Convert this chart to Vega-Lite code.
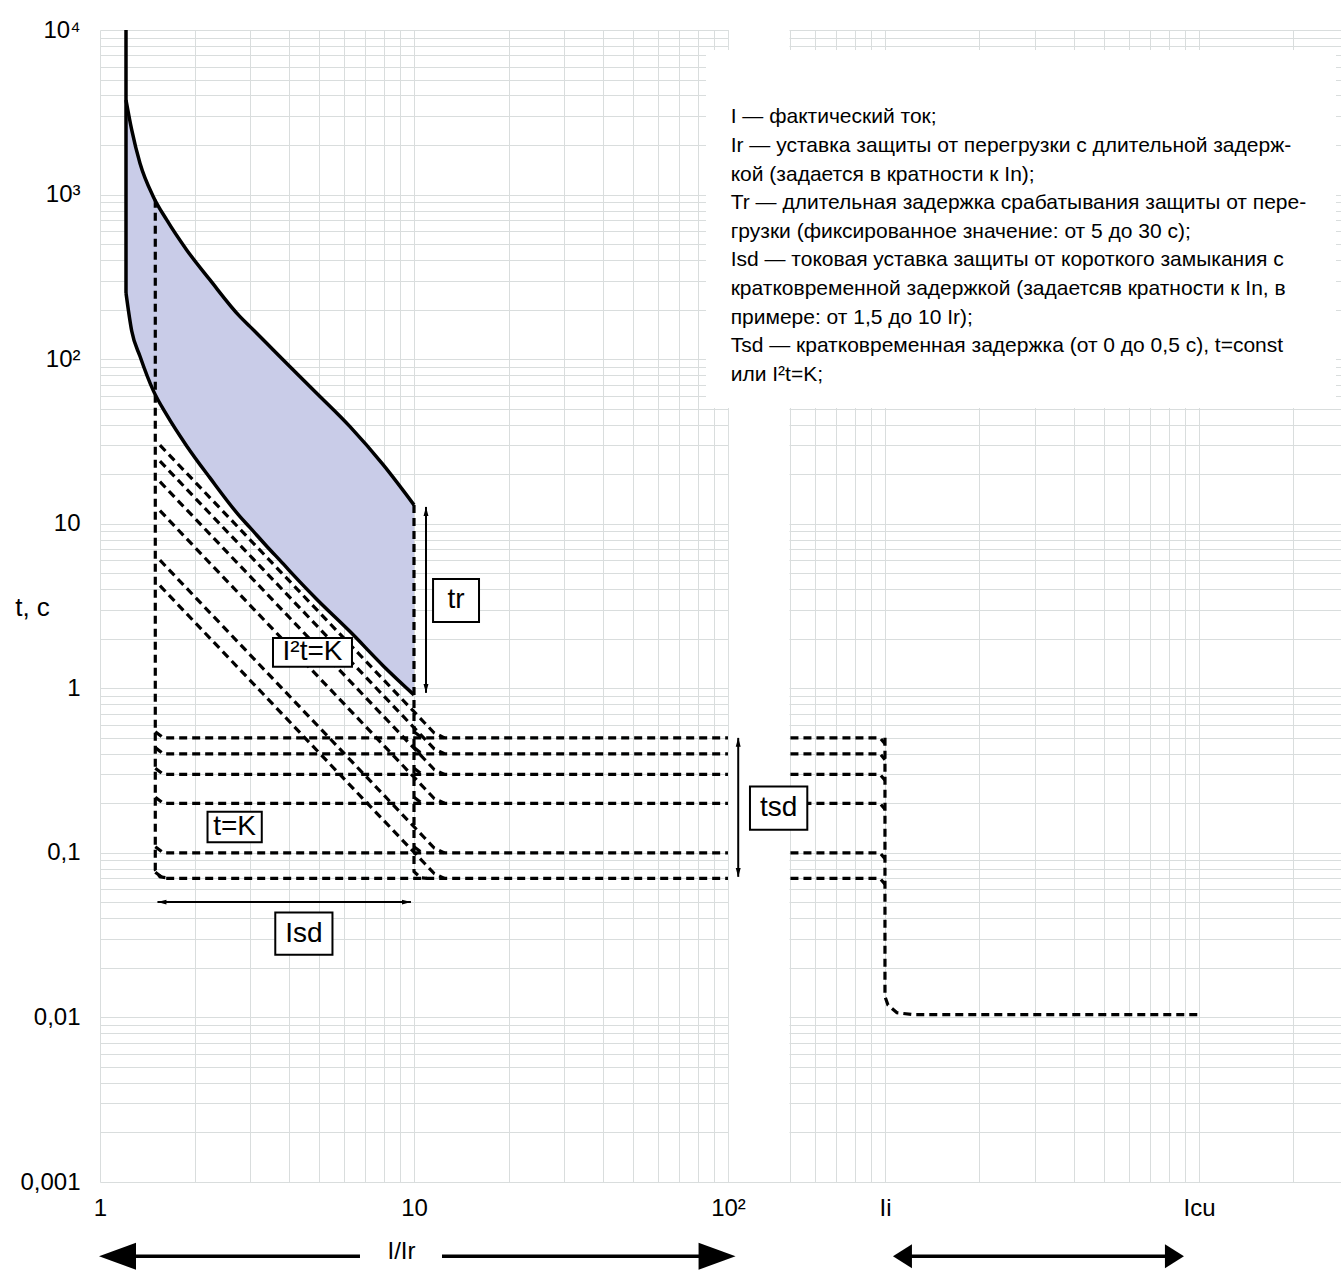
{
  "$schema": "https://vega.github.io/schema/vega-lite/v6.json",
  "width": 1241,
  "height": 1152,
  "autosize": {"type": "none"},
  "padding": {"left": 100, "top": 30, "right": 0, "bottom": 88},
  "background": "white",
  "config": {"view": {"stroke": null}, "font": "Liberation Sans"},
  "datasets": {
    "curve": [
      {"x": 1.21, "up": 3756, "lo": 252.5},
      {"x": 1.2619, "up": 2469, "lo": 148.3},
      {"x": 1.3407, "up": 1549.6, "lo": 104.1},
      {"x": 1.4783, "up": 971.0, "lo": 64.36},
      {"x": 1.6313, "up": 701.0, "lo": 45.81},
      {"x": 1.8882, "up": 460.8, "lo": 29.7},
      {"x": 2.2403, "up": 302.8, "lo": 18.98},
      {"x": 2.7918, "up": 181.2, "lo": 11.045},
      {"x": 3.0052, "up": 157.6, "lo": 9.469},
      {"x": 3.3955, "up": 124.9, "lo": 7.299},
      {"x": 3.8348, "up": 98.88, "lo": 5.699},
      {"x": 4.127, "up": 86.0, "lo": 4.886},
      {"x": 4.8986, "up": 62.06, "lo": 3.477},
      {"x": 6.2548, "up": 38.89, "lo": 2.211},
      {"x": 7.9846, "up": 22.76, "lo": 1.3679},
      {"x": 10, "up": 13.007, "lo": 0.9118}
    ],
    "dash": [
      {"id": "v15", "i": 0, "x": 1.5, "t": 930},
      {"id": "v15", "i": 1, "x": 1.5, "t": 0.0788},
      {"id": "v15", "i": 2, "x": 1.552, "t": 0.0715},
      {"id": "v15", "i": 3, "x": 1.634, "t": 0.0705},
      {"id": "v10", "i": 0, "x": 10, "t": 13},
      {"id": "v10", "i": 1, "x": 10, "t": 0.077},
      {"id": "v10", "i": 2, "x": 10.5, "t": 0.0705},
      {"id": "v10", "i": 3, "x": 11, "t": 0.07},
      {"id": "hl05", "i": 0, "x": 1.5, "t": 0.545},
      {"id": "hl05", "i": 1, "x": 1.59, "t": 0.5},
      {"id": "hl05", "i": 2, "x": 100, "t": 0.5},
      {"id": "hl04", "i": 0, "x": 1.5, "t": 0.436},
      {"id": "hl04", "i": 1, "x": 1.59, "t": 0.4},
      {"id": "hl04", "i": 2, "x": 100, "t": 0.4},
      {"id": "hl03", "i": 0, "x": 1.5, "t": 0.327},
      {"id": "hl03", "i": 1, "x": 1.59, "t": 0.3},
      {"id": "hl03", "i": 2, "x": 100, "t": 0.3},
      {"id": "hl02", "i": 0, "x": 1.5, "t": 0.218},
      {"id": "hl02", "i": 1, "x": 1.59, "t": 0.2},
      {"id": "hl02", "i": 2, "x": 100, "t": 0.2},
      {"id": "hl01", "i": 0, "x": 1.5, "t": 0.109},
      {"id": "hl01", "i": 1, "x": 1.59, "t": 0.1},
      {"id": "hl01", "i": 2, "x": 100, "t": 0.1},
      {"id": "hl007", "i": 0, "x": 1.5, "t": 0.0763},
      {"id": "hl007", "i": 1, "x": 1.59, "t": 0.07},
      {"id": "hl007", "i": 2, "x": 100, "t": 0.07},
      {"id": "hk05", "i": 0, "x": 10, "t": 0.545},
      {"id": "hk05", "i": 1, "x": 10.6, "t": 0.5},
      {"id": "hk04", "i": 0, "x": 10, "t": 0.436},
      {"id": "hk04", "i": 1, "x": 10.6, "t": 0.4},
      {"id": "hk03", "i": 0, "x": 10, "t": 0.327},
      {"id": "hk03", "i": 1, "x": 10.6, "t": 0.3},
      {"id": "hk02", "i": 0, "x": 10, "t": 0.218},
      {"id": "hk02", "i": 1, "x": 10.6, "t": 0.2},
      {"id": "hk01", "i": 0, "x": 10, "t": 0.109},
      {"id": "hk01", "i": 1, "x": 10.6, "t": 0.1},
      {"id": "d05", "i": 0, "x": 1.552, "t": 30},
      {"id": "d05", "i": 1, "x": 10.8, "t": 0.6175},
      {"id": "d05", "i": 2, "x": 11.6, "t": 0.535},
      {"id": "d05", "i": 3, "x": 12.5, "t": 0.5},
      {"id": "d04", "i": 0, "x": 1.552, "t": 24},
      {"id": "d04", "i": 1, "x": 10.8, "t": 0.494},
      {"id": "d04", "i": 2, "x": 11.6, "t": 0.428},
      {"id": "d04", "i": 3, "x": 12.5, "t": 0.4},
      {"id": "d03", "i": 0, "x": 1.552, "t": 18},
      {"id": "d03", "i": 1, "x": 10.8, "t": 0.3705},
      {"id": "d03", "i": 2, "x": 11.6, "t": 0.321},
      {"id": "d03", "i": 3, "x": 12.5, "t": 0.3},
      {"id": "d02", "i": 0, "x": 1.552, "t": 12},
      {"id": "d02", "i": 1, "x": 10.8, "t": 0.247},
      {"id": "d02", "i": 2, "x": 11.6, "t": 0.214},
      {"id": "d02", "i": 3, "x": 12.5, "t": 0.2},
      {"id": "d01", "i": 0, "x": 1.552, "t": 6},
      {"id": "d01", "i": 1, "x": 10.8, "t": 0.1235},
      {"id": "d01", "i": 2, "x": 11.6, "t": 0.107},
      {"id": "d01", "i": 3, "x": 12.5, "t": 0.1},
      {"id": "d007", "i": 0, "x": 1.552, "t": 4.2},
      {"id": "d007", "i": 1, "x": 10.8, "t": 0.08645},
      {"id": "d007", "i": 2, "x": 11.6, "t": 0.0749},
      {"id": "d007", "i": 3, "x": 12.5, "t": 0.07},
      {"id": "hr05", "i": 0, "x": 158.1, "t": 0.5},
      {"id": "hr05", "i": 1, "x": 305, "t": 0.5},
      {"id": "hr05", "i": 2, "x": 316.2, "t": 0.46},
      {"id": "hr04", "i": 0, "x": 158.1, "t": 0.4},
      {"id": "hr04", "i": 1, "x": 305, "t": 0.4},
      {"id": "hr04", "i": 2, "x": 316.2, "t": 0.368},
      {"id": "hr03", "i": 0, "x": 158.1, "t": 0.3},
      {"id": "hr03", "i": 1, "x": 305, "t": 0.3},
      {"id": "hr03", "i": 2, "x": 316.2, "t": 0.276},
      {"id": "hr02", "i": 0, "x": 158.1, "t": 0.2},
      {"id": "hr02", "i": 1, "x": 305, "t": 0.2},
      {"id": "hr02", "i": 2, "x": 316.2, "t": 0.184},
      {"id": "hr01", "i": 0, "x": 158.1, "t": 0.1},
      {"id": "hr01", "i": 1, "x": 305, "t": 0.1},
      {"id": "hr01", "i": 2, "x": 316.2, "t": 0.092},
      {"id": "hr007", "i": 0, "x": 158.1, "t": 0.07},
      {"id": "hr007", "i": 1, "x": 305, "t": 0.07},
      {"id": "hr007", "i": 2, "x": 316.2, "t": 0.0644},
      {"id": "vr", "i": 0, "x": 316.2, "t": 0.5},
      {"id": "vr", "i": 1, "x": 316.2, "t": 0.0134},
      {"id": "vr", "i": 2, "x": 323.3, "t": 0.0119},
      {"id": "vr", "i": 3, "x": 345.3, "t": 0.01067},
      {"id": "vr", "i": 4, "x": 388, "t": 0.0104},
      {"id": "vr", "i": 5, "x": 3162, "t": 0.0104}
    ],
    "boxes": [
      {"label": "tr", "x1": 11.5, "x2": 16.11, "t1": 4.62, "t2": 2.53, "xc": 13.61, "tc": 3.44},
      {"label": "I²t=K", "x1": 3.556, "x2": 6.346, "t1": 2.02, "t2": 1.35, "xc": 4.752, "tc": 1.65},
      {"label": "t=K", "x1": 2.2, "x2": 3.275, "t1": 0.178, "t2": 0.116, "xc": 2.684, "tc": 0.1439},
      {"label": "Isd", "x1": 3.616, "x2": 5.5, "t1": 0.0434, "t2": 0.024, "xc": 4.464, "tc": 0.0322},
      {"label": "tsd", "x1": 117.5, "x2": 178.9, "t1": 0.253, "t2": 0.138, "xc": 145, "tc": 0.1866}
    ],
    "thin": [
      {"name": "tr", "x1": 10.92, "x2": 10.92, "t1": 12.65, "t2": 0.938},
      {"name": "tsd", "x1": 107.8, "x2": 107.8, "t1": 0.4996, "t2": 0.0715},
      {"name": "Isd", "x1": 1.524, "x2": 9.78, "t1": 0.0502, "t2": 0.0502}
    ],
    "thick": [
      {"name": "I/Ir left", "x1": 1.141, "x2": 6.73, "t1": 0.000354, "t2": 0.000354},
      {"name": "I/Ir right", "x1": 12.28, "x2": 91.6, "t1": 0.000354, "t2": 0.000354},
      {"name": "Ii-Icu", "x1": 366.2, "x2": 2594, "t1": 0.000354, "t2": 0.000354}
    ],
    "smallHeads": [
      {"kind": "up", "x": 10.92, "t": 11.88},
      {"kind": "down", "x": 10.92, "t": 0.9986},
      {"kind": "up", "x": 107.8, "t": 0.4692},
      {"kind": "down", "x": 107.8, "t": 0.0761},
      {"kind": "left", "x": 1.575, "t": 0.0502},
      {"kind": "right", "x": 9.465, "t": 0.0502}
    ],
    "bigHeads": [
      {"kind": "bigleft", "x": 1.137, "t": 0.000354},
      {"kind": "bigright", "x": 92.3, "t": 0.000354}
    ],
    "medHeads": [
      {"kind": "medleft", "x": 359.5, "t": 0.000354},
      {"kind": "medright", "x": 2642, "t": 0.000354}
    ]
  },
  "layer": [
    {
      "data": {"name": "curve"},
      "mark": {"type": "area", "fill": "#c9cce8", "opacity": 1, "interpolate": "monotone"},
      "encoding": {
        "x": {
          "field": "x", "type": "quantitative", "title": "I/Ir",
          "scale": {"type": "log", "domain": [1, 8961], "nice": false},
          "axis": {
            "values": [1, 2, 3, 4, 5, 6, 7, 8, 9, 10, 20, 30, 40, 50, 60, 70, 80, 90, 100, 158.11, 189.74, 221.36, 252.98, 284.6, 316.23, 632.46, 948.68, 1264.91, 1581.14, 1897.37, 2213.59, 2529.82, 2846.05, 3162.28, 6324.56],
            "grid": true, "gridColor": "#d9dddd", "gridWidth": 1,
            "ticks": false, "domain": false,
            "labelExpr": "datum.value == 1 ? '1' : datum.value == 10 ? '10' : datum.value == 100 ? '10²' : datum.value == 316.23 ? 'Ii' : datum.value == 3162.28 ? 'Icu' : ''",
            "labelFont": "Liberation Sans", "labelFontSize": 24, "labelColor": "#000000",
            "labelPadding": 14, "labelFlush": false, "labelOverlap": false, "labelBound": false,
            "title": "I/Ir", "titleX": 301, "titleY": 69, "titleFont": "Liberation Sans", "titleFontSize": 24,
            "titleFontWeight": "normal", "titleColor": "#000000", "titleAlign": "center", "titleBaseline": "middle", "titleAngle": 0
          }
        },
        "y": {
          "field": "up", "type": "quantitative", "title": "t, c",
          "scale": {"type": "log", "domain": [0.001, 10000], "nice": false},
          "axis": {
            "values": [0.001, 0.002, 0.003, 0.004, 0.005, 0.006, 0.007, 0.008, 0.009, 0.01, 0.02, 0.03, 0.04, 0.05, 0.06, 0.07, 0.08, 0.09, 0.1, 0.2, 0.3, 0.4, 0.5, 0.6, 0.7, 0.8, 0.9, 1, 2, 3, 4, 5, 6, 7, 8, 9, 10, 20, 30, 40, 50, 60, 70, 80, 90, 100, 200, 300, 400, 500, 600, 700, 800, 900, 1000, 2000, 3000, 4000, 5000, 6000, 7000, 8000, 9000, 10000],
            "grid": true, "gridColor": "#d9dddd", "gridWidth": 1,
            "ticks": false, "domain": false,
            "labelExpr": "datum.value == 10000 ? '10⁴' : datum.value == 1000 ? '10³' : datum.value == 100 ? '10²' : datum.value == 10 ? '10' : datum.value == 1 ? '1' : datum.value == 0.1 ? '0,1' : datum.value == 0.01 ? '0,01' : datum.value == 0.001 ? '0,001' : ''",
            "labelFont": "Liberation Sans", "labelFontSize": 24, "labelColor": "#000000",
            "labelAlign": "right", "labelBaseline": "middle", "labelPadding": 20,
            "labelFlush": false, "labelOverlap": false, "labelBound": false,
            "title": "t, c", "titleAngle": 0, "titleX": -68, "titleY": 577, "titleAlign": "center", "titleBaseline": "middle",
            "titleFont": "Liberation Sans", "titleFontSize": 26, "titleFontWeight": "normal", "titleColor": "#000000"
          }
        },
        "y2": {"field": "lo"}
      }
    },
    {
      "data": {"values": [{}]},
      "mark": {"type": "rect", "fill": "white", "stroke": null},
      "encoding": {
        "x": {"datum": 100.7, "type": "quantitative", "title": "I/Ir", "scale": {"type": "log", "domain": [1, 8961], "nice": false}},
        "x2": {"datum": 157.0},
        "y": {"datum": 0.001, "type": "quantitative", "title": "t, c", "scale": {"type": "log", "domain": [0.001, 10000], "nice": false}},
        "y2": {"datum": 10000}
      }
    },
    {
      "data": {"name": "dash"},
      "mark": {"type": "line", "color": "black", "strokeWidth": 3.2, "strokeDash": [8, 5], "clip": false},
      "encoding": {
        "x": {"field": "x", "type": "quantitative", "title": "I/Ir", "scale": {"type": "log", "domain": [1, 8961], "nice": false}},
        "y": {"field": "t", "type": "quantitative", "title": "t, c", "scale": {"type": "log", "domain": [0.001, 10000], "nice": false}},
        "detail": {"field": "id", "type": "nominal"},
        "order": {"field": "i", "type": "quantitative"}
      }
    },
    {
      "data": {"name": "curve"},
      "mark": {"type": "line", "color": "black", "strokeWidth": 3.5, "interpolate": "monotone"},
      "encoding": {
        "x": {"field": "x", "type": "quantitative", "title": "I/Ir", "scale": {"type": "log", "domain": [1, 8961], "nice": false}},
        "y": {"field": "up", "type": "quantitative", "title": "t, c", "scale": {"type": "log", "domain": [0.001, 10000], "nice": false}}
      }
    },
    {
      "data": {"name": "curve"},
      "mark": {"type": "line", "color": "black", "strokeWidth": 3.5, "interpolate": "monotone"},
      "encoding": {
        "x": {"field": "x", "type": "quantitative", "title": "I/Ir", "scale": {"type": "log", "domain": [1, 8961], "nice": false}},
        "y": {"field": "lo", "type": "quantitative", "title": "t, c", "scale": {"type": "log", "domain": [0.001, 10000], "nice": false}}
      }
    },
    {
      "data": {"values": [{}]},
      "mark": {"type": "rule", "color": "black", "strokeWidth": 3.5},
      "encoding": {
        "x": {"datum": 1.21, "type": "quantitative", "title": "I/Ir", "scale": {"type": "log", "domain": [1, 8961], "nice": false}},
        "y": {"datum": 10000, "type": "quantitative", "title": "t, c", "scale": {"type": "log", "domain": [0.001, 10000], "nice": false}},
        "y2": {"datum": 252.5}
      }
    },
    {
      "data": {"name": "thin"},
      "mark": {"type": "rule", "color": "black", "strokeWidth": 2, "clip": false},
      "encoding": {
        "x": {"field": "x1", "type": "quantitative", "title": "I/Ir", "scale": {"type": "log", "domain": [1, 8961], "nice": false}},
        "x2": {"field": "x2"},
        "y": {"field": "t1", "type": "quantitative", "title": "t, c", "scale": {"type": "log", "domain": [0.001, 10000], "nice": false}},
        "y2": {"field": "t2"}
      }
    },
    {
      "data": {"name": "boxes"},
      "mark": {"type": "rect", "fill": "white", "stroke": "black", "strokeWidth": 2, "clip": false},
      "encoding": {
        "x": {"field": "x1", "type": "quantitative", "title": "I/Ir", "scale": {"type": "log", "domain": [1, 8961], "nice": false}},
        "x2": {"field": "x2"},
        "y": {"field": "t1", "type": "quantitative", "title": "t, c", "scale": {"type": "log", "domain": [0.001, 10000], "nice": false}},
        "y2": {"field": "t2"}
      }
    },
    {
      "data": {"name": "boxes"},
      "mark": {"type": "text", "font": "Liberation Sans", "fontSize": 28, "color": "black", "align": "center", "baseline": "middle", "clip": false},
      "encoding": {
        "x": {"field": "xc", "type": "quantitative", "title": "I/Ir", "scale": {"type": "log", "domain": [1, 8961], "nice": false}},
        "y": {"field": "tc", "type": "quantitative", "title": "t, c", "scale": {"type": "log", "domain": [0.001, 10000], "nice": false}},
        "text": {"field": "label", "type": "nominal"}
      }
    },
    {
      "data": {"values": [{}]},
      "mark": {"type": "rect", "fill": "white", "stroke": null, "clip": false},
      "encoding": {
        "x": {"datum": 85.1, "type": "quantitative", "title": "I/Ir", "scale": {"type": "log", "domain": [1, 8961], "nice": false}},
        "x2": {"datum": 8638},
        "y": {"datum": 7557, "type": "quantitative", "title": "t, c", "scale": {"type": "log", "domain": [0.001, 10000], "nice": false}},
        "y2": {"datum": 50.5}
      }
    },
    {
      "data": {"values": [{}]},
      "mark": {
        "type": "text", "font": "Liberation Sans", "fontSize": 21, "color": "black",
        "align": "left", "baseline": "alphabetic", "lineHeight": 28.6, "clip": false,
        "text": [
          "I — фактический ток;",
          "Ir — уставка защиты от перегрузки с длительной задерж-",
          "кой (задается в кратности к In);",
          "Tr — длительная задержка срабатывания защиты от пере-",
          "грузки (фиксированное значение: от 5 до 30 с);",
          "Isd — токовая уставка защиты от короткого замыкания с",
          "кратковременной задержкой (задаетсяв кратности к In, в",
          "примере: от 1,5 до 10 Ir);",
          "Tsd — кратковременная задержка (от 0 до 0,5 с), t=const",
          "или I²t=K;"
        ]
      },
      "encoding": {
        "x": {"datum": 102, "type": "quantitative", "title": "I/Ir", "scale": {"type": "log", "domain": [1, 8961], "nice": false}},
        "y": {"datum": 2704, "type": "quantitative", "title": "t, c", "scale": {"type": "log", "domain": [0.001, 10000], "nice": false}}
      }
    },
    {
      "data": {"name": "thick"},
      "mark": {"type": "rule", "color": "black", "strokeWidth": 3.5, "clip": false},
      "encoding": {
        "x": {"field": "x1", "type": "quantitative", "title": "I/Ir", "scale": {"type": "log", "domain": [1, 8961], "nice": false}},
        "x2": {"field": "x2"},
        "y": {"field": "t1", "type": "quantitative", "title": "t, c", "scale": {"type": "log", "domain": [0.001, 10000], "nice": false}},
        "y2": {"field": "t2"}
      }
    },
    {
      "data": {"name": "smallHeads"},
      "mark": {"type": "point", "filled": true, "color": "black", "opacity": 1, "strokeWidth": 0, "size": 81, "clip": false},
      "encoding": {
        "x": {"field": "x", "type": "quantitative", "title": "I/Ir", "scale": {"type": "log", "domain": [1, 8961], "nice": false}},
        "y": {"field": "t", "type": "quantitative", "title": "t, c", "scale": {"type": "log", "domain": [0.001, 10000], "nice": false}},
        "shape": {
          "field": "kind", "type": "nominal", "legend": null,
          "scale": {
            "domain": ["up", "down", "left", "right", "bigleft", "bigright", "medleft", "medright"],
            "range": ["M0,-1L-0.55,1L0.55,1Z", "M0,1L-0.55,-1L0.55,-1Z", "M-1,0L1,-0.55L1,0.55Z", "M1,0L-1,-0.55L-1,0.55Z", "M-1,0L1,-0.73L1,0.73Z", "M1,0L-1,-0.73L-1,0.73Z", "M-1,0L1,-1.26L1,1.26Z", "M1,0L-1,-1.26L-1,1.26Z"]
          }
        }
      }
    },
    {
      "data": {"name": "bigHeads"},
      "mark": {"type": "point", "filled": true, "color": "black", "opacity": 1, "strokeWidth": 0, "size": 1369, "clip": false},
      "encoding": {
        "x": {"field": "x", "type": "quantitative", "title": "I/Ir", "scale": {"type": "log", "domain": [1, 8961], "nice": false}},
        "y": {"field": "t", "type": "quantitative", "title": "t, c", "scale": {"type": "log", "domain": [0.001, 10000], "nice": false}},
        "shape": {
          "field": "kind", "type": "nominal", "legend": null,
          "scale": {
            "domain": ["up", "down", "left", "right", "bigleft", "bigright", "medleft", "medright"],
            "range": ["M0,-1L-0.55,1L0.55,1Z", "M0,1L-0.55,-1L0.55,-1Z", "M-1,0L1,-0.55L1,0.55Z", "M1,0L-1,-0.55L-1,0.55Z", "M-1,0L1,-0.73L1,0.73Z", "M1,0L-1,-0.73L-1,0.73Z", "M-1,0L1,-1.26L1,1.26Z", "M1,0L-1,-1.26L-1,1.26Z"]
          }
        }
      }
    },
    {
      "data": {"name": "medHeads"},
      "mark": {"type": "point", "filled": true, "color": "black", "opacity": 1, "strokeWidth": 0, "size": 361, "clip": false},
      "encoding": {
        "x": {"field": "x", "type": "quantitative", "title": "I/Ir", "scale": {"type": "log", "domain": [1, 8961], "nice": false}},
        "y": {"field": "t", "type": "quantitative", "title": "t, c", "scale": {"type": "log", "domain": [0.001, 10000], "nice": false}},
        "shape": {
          "field": "kind", "type": "nominal", "legend": null,
          "scale": {
            "domain": ["up", "down", "left", "right", "bigleft", "bigright", "medleft", "medright"],
            "range": ["M0,-1L-0.55,1L0.55,1Z", "M0,1L-0.55,-1L0.55,-1Z", "M-1,0L1,-0.55L1,0.55Z", "M1,0L-1,-0.55L-1,0.55Z", "M-1,0L1,-0.73L1,0.73Z", "M1,0L-1,-0.73L-1,0.73Z", "M-1,0L1,-1.26L1,1.26Z", "M1,0L-1,-1.26L-1,1.26Z"]
          }
        }
      }
    }
  ]
}
